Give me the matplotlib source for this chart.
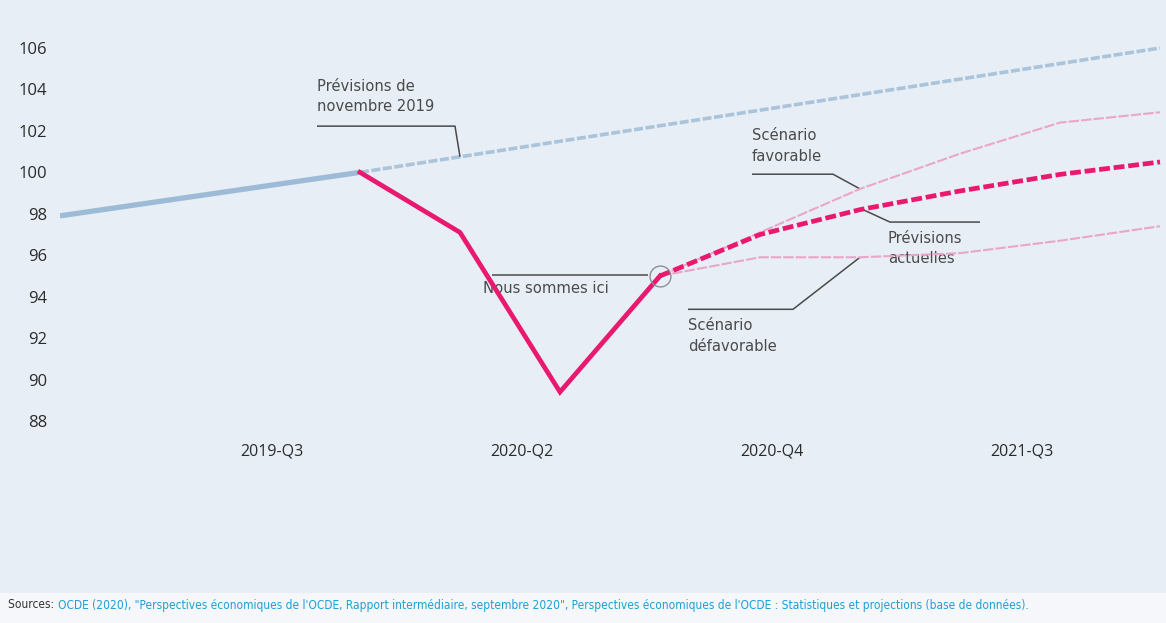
import matplotlib
matplotlib.use("Agg")
import matplotlib.pyplot as plt

# quarter index: 0 = 2019-Q1 ... 11 = 2021-Q4
hist_q = [0, 1, 2, 3]
hist_blue = [97.9, 98.6, 99.3, 100.0]

nov2019_q = [3, 4, 5, 6, 7, 8, 9, 10, 11]
nov2019 = [100.0, 100.75, 101.5, 102.25, 103.0, 103.75, 104.5, 105.25, 106.0]

covid_q = [3, 4, 5, 6]
covid = [100.0, 97.1, 89.4, 95.0]

proj_q = [6, 7, 8, 9, 10, 11]
favorable = [95.0, 97.1, 99.2, 100.9, 102.4, 102.9]
actuelles = [95.0, 97.0, 98.2, 99.1, 99.9, 100.5]
defavorable = [95.0, 95.9, 95.9, 96.1, 96.7, 97.4]

tick_pos = [2.12, 4.62, 7.12, 9.62]
tick_labels = ["2019-Q3", "2020-Q2", "2020-Q4", "2021-Q3"]
y_ticks = [88, 90, 92, 94, 96, 98, 100, 102, 104, 106]

BG = "#e8eef5"
BLUE = "#9dbbd6"
BLUE_D = "#aac4dc"
PINK = "#e8196e"
PINK_L = "#eaa6ca"
GREY = "#4a4a4a"
NARROW = dict(family="DejaVu Sans", stretch="condensed")

W, H = 1166, 623
fig = plt.figure(figsize=(W / 100, H / 100), dpi=100, facecolor=BG)
# footer strip
fig.patches.append(plt.Rectangle((0, 0), 1, 30 / H, transform=fig.transFigure,
                                 facecolor="#f5f7fa", edgecolor="none", zorder=0))

ax = fig.add_axes([60 / W, (H - 441.7) / H, (W - 60) / W, (441.7 - 27.3) / H])
ax.patch.set_alpha(0)
ax.set_xlim(0, 11.06)
ax.set_ylim(87, 107)
for s in ax.spines.values():
    s.set_visible(False)

ax.plot(hist_q, hist_blue, color=BLUE, lw=3.8, solid_capstyle="butt", zorder=3)
ax.plot(nov2019_q, nov2019, color=BLUE_D, lw=2.6, ls=(0, (2.5, 0.7)), zorder=2)
ax.plot(proj_q, favorable, color=PINK_L, lw=1.5, ls=(0, (5, 1)), zorder=3)
ax.plot(proj_q, defavorable, color=PINK_L, lw=1.5, ls=(0, (5, 1)), zorder=3)
ax.plot(proj_q, actuelles, color=PINK, lw=3.4, ls=(0, (2.3, 0.8)), zorder=4)
ax.plot(covid_q, covid, color=PINK, lw=3.4, solid_joinstyle="miter", zorder=5)
ax.plot(covid_q[-1], covid[-1], marker="o", ms=15, mfc="none", mec="#8a8f99",
        mew=1.0, zorder=6)

ax.set_xticks(tick_pos)
ax.set_xticklabels(tick_labels, fontsize=11.5, family="Open Sans", color="#2b2b2b")
ax.set_yticks(y_ticks)
ax.set_yticklabels([str(v) for v in y_ticks], fontsize=12, family="Open Sans",
                   color="#2b2b2b")
ax.tick_params(axis="x", length=0, pad=1)
ax.tick_params(axis="y", length=0, pad=9)

txt = dict(fontsize=11.8, color=GREY, linespacing=1.45, zorder=2, **NARROW)
lead = dict(color=GREY, lw=1.1, zorder=2, solid_capstyle="butt")

# Prévisions de novembre 2019
ax.text(2.57, 103.66, "Prévisions de\nnovembre 2019", va="center", ha="left", **txt)
ax.plot([2.57, 3.95, 4.0], [102.23, 102.23, nov2019[1]], **lead)

# Nous sommes ici
ax.text(4.23, 94.4, "Nous sommes ici", va="center", ha="left", **txt)
ax.plot([4.32, 5.88], [95.03, 95.03], **lead)

# Scénario favorable
ax.text(6.92, 101.27, "Scénario\nfavorable", va="center", ha="left", **txt)
ax.plot([6.92, 7.73, 8.0], [99.91, 99.91, favorable[2]], **lead)

# Prévisions actuelles
ax.text(8.28, 96.31, "Prévisions\nactuelles", va="center", ha="left", **txt)
ax.plot([8.03, 8.3, 9.2], [actuelles[2], 97.6, 97.6], **lead)

# Scénario défavorable
ax.text(6.28, 92.11, "Scénario\ndéfavorable", va="center", ha="left", **txt)
ax.plot([8.0, 7.33, 6.28], [defavorable[2], 93.39, 93.39], **lead)

# source line: grey label, then the blue reference right after it
src = fig.text(8 / W, 1 - 605 / H, "Sources: ", fontsize=8.6, color="#333333",
               va="center", ha="left", **NARROW)
renderer = fig.canvas.get_renderer()
x_end = fig.transFigure.inverted().transform(src.get_window_extent(renderer).p1)[0]
fig.text(x_end, 1 - 605 / H,
         "OCDE (2020), \"Perspectives économiques de l'OCDE, Rapport intermédiaire, "
         "septembre 2020\", Perspectives économiques de l'OCDE : Statistiques et "
         "projections (base de données).",
         fontsize=8.6, color="#1d9fd6", va="center", ha="left", **NARROW)

fig.savefig("out.png", dpi=100, facecolor=BG)
